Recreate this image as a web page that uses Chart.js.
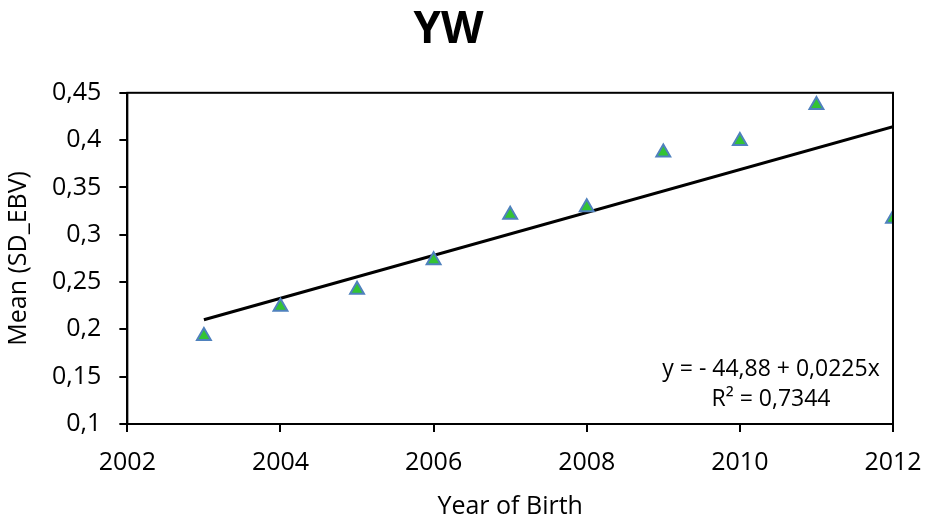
<!DOCTYPE html>
<html>
<head>
<meta charset="utf-8">
<script src="https://cdn.jsdelivr.net/npm/chart.js@4/dist/chart.umd.min.js"></script>
<style>
  html, body { margin: 0; padding: 0; background: #fff; }
  #wrap { width: 926px; height: 519px; }
</style>
</head>
<body>
<div id="wrap"><canvas id="myChart" width="926" height="519"></canvas></div>
<script>
// years on the x axis
const years = [2003, 2004, 2005, 2006, 2007, 2008, 2009, 2010, 2011, 2012];
// mean SD_EBV
const means = [0.193, 0.224, 0.242, 0.273, 0.321, 0.329, 0.387, 0.399, 0.437, 0.317];
// text of the trend label
const eqLines = ["y = - 44,88 + 0,0225x", "R\u00b2 = 0,7344"];

// least squares line through the points
const n = years.length;
const mx = years.reduce((a, b) => a + b, 0) / n;
const my = means.reduce((a, b) => a + b, 0) / n;
let sxy = 0, sxx = 0;
years.forEach((x, i) => { sxy += (x - mx) * (means[i] - my); sxx += (x - mx) * (x - mx); });
const slope = sxy / sxx;
const icpt = my - slope * mx;
const trendPts = [years[0], years[n - 1]].map(x => ({ x: x, y: icpt + slope * x }));

const fontFam = "'Open Sans', 'DejaVu Sans', sans-serif";
Chart.defaults.font.family = fontFam;
Chart.defaults.color = "#000";

// box round the plot and the equation text
const boxPlugin = {
  id: "box",
  afterDraw(chart) {
    const { ctx, chartArea: a } = chart;
    ctx.save();
    ctx.strokeStyle = "#000";
    ctx.lineWidth = 2;
    ctx.strokeRect(a.left, a.top, a.right - a.left, a.bottom - a.top);
    ctx.fillStyle = "#000";
    ctx.font = "23px " + fontFam;
    ctx.textAlign = "center";
    ctx.textBaseline = "middle";
    ctx.fillText(eqLines[0], a.right - 122, a.bottom - 55);
    ctx.fillText(eqLines[1], a.right - 122, a.bottom - 25);
    ctx.restore();
  }
};

const ctx = document.getElementById("myChart").getContext("2d");
new Chart(ctx, {
  type: "scatter",
  data: {
    datasets: [{
      data: years.map((x, i) => ({ x: x, y: means[i] })),
      pointStyle: "triangle",
      radius: 8,
      backgroundColor: "#33c433",
      borderColor: "#4f81bd",
      borderWidth: 2,
      order: 1
    }, {
      type: "line",
      data: trendPts,
      borderColor: "#000",
      borderWidth: 3,
      pointRadius: 0,
      fill: false,
      order: 2
    }]
  },
  plugins: [boxPlugin],
  options: {
    responsive: false,
    animation: false,
    layout: { padding: { left: 4, right: 33, top: 0, bottom: 0 } },
    plugins: {
      legend: { display: false },
      tooltip: { enabled: false },
      title: {
        display: true,
        text: "YW",
        font: { size: 44, weight: "bold" },
        padding: { top: 4, bottom: 36 }
      }
    },
    scales: {
      x: {
        type: "linear",
        min: 2002,
        max: 2012,
        afterFit: s => { s.paddingLeft = 0; s.paddingRight = 0; },
        ticks: { stepSize: 2, font: { size: 25 }, padding: 16, callback: v => String(v) },
        grid: { drawOnChartArea: false, color: "#000", tickLength: 8, lineWidth: 2 },
        border: { color: "#000", width: 2 },
        title: { display: true, text: "Year of Birth", font: { size: 25, lineHeight: 1 }, padding: { top: 0, bottom: 0 } }
      },
      y: {
        min: 0.1,
        max: 0.45,
        ticks: {
          stepSize: 0.05,
          font: { size: 25 },
          padding: 18,
          callback: v => String(Math.round(v * 100) / 100).replace(".", ",")
        },
        grid: { drawOnChartArea: false, color: "#000", tickLength: 8, lineWidth: 2 },
        border: { color: "#000", width: 2 },
        title: { display: true, text: "Mean (SD_EBV)", font: { size: 25 }, padding: { top: 0, bottom: 0 } }
      }
    }
  }
});
</script>
</body>
</html>
